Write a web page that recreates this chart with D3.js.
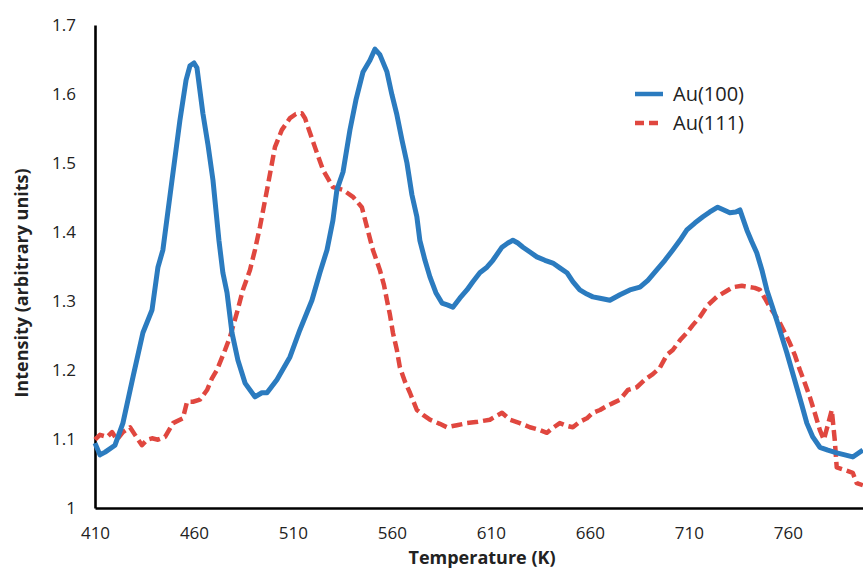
<!DOCTYPE html>
<html>
<head>
<meta charset="utf-8">
<script src="https://cdn.jsdelivr.net/npm/d3@7"></script>
<style>
  html, body { margin: 0; padding: 0; background: #fff; }
  svg { display: block; }
  text { font-family: "Open Sans", "Liberation Sans", sans-serif; fill: #222; }
</style>
</head>
<body>
<svg id="chart" width="863" height="571"></svg>
<script>
// Thermal desorption traces (temperature in K, intensity in arbitrary units)
const au100Temp = [410, 412.5, 415.1, 420.1, 424.1, 429.2, 434.2, 438.8, 441.8, 444.3, 448.9, 452.9, 456.0, 458.0, 460.0, 461.5, 464.5, 467.1, 469.6, 472.6, 474.6, 476.7, 479.2, 482.2, 485.8, 490.8, 494.3, 496.9, 501.9, 508.5, 513.5, 519.6, 523.6, 527.2, 530.2, 532.2, 535.3, 538.8, 541.8, 545.4, 548.9, 551.4, 553.9, 557.5, 560.0, 562.5, 565.1, 567.6, 570.1, 572.6, 574.1, 576.7, 579.2, 582.2, 585.3, 588.3, 590.8, 594.3, 597.9, 600.9, 604.4, 608.0, 611.0, 615.6, 618.6, 621.1, 623.6, 626.2, 629.7, 633.2, 637.3, 641.3, 644.8, 648.4, 651.4, 654.9, 658.5, 661.5, 665.1, 670.1, 675.2, 680.2, 685.3, 689.3, 693.8, 697.9, 701.9, 705.5, 709.0, 713.0, 717.1, 720.6, 724.6, 727.7, 730.7, 733.7, 735.8, 739.3, 741.8, 744.3, 746.9, 749.4, 751.9, 754.4, 757.0, 759.5, 762.0, 764.5, 767.1, 769.6, 772.6, 776.2, 780.2, 784.7, 788.8, 792.8, 797.9];
const au100Value = [1.094, 1.077, 1.081, 1.091, 1.123, 1.190, 1.254, 1.287, 1.349, 1.374, 1.475, 1.562, 1.620, 1.641, 1.645, 1.638, 1.572, 1.526, 1.475, 1.388, 1.341, 1.312, 1.254, 1.214, 1.181, 1.161, 1.167, 1.167, 1.186, 1.219, 1.258, 1.301, 1.341, 1.374, 1.417, 1.461, 1.487, 1.548, 1.591, 1.632, 1.649, 1.665, 1.657, 1.632, 1.599, 1.570, 1.533, 1.500, 1.454, 1.422, 1.388, 1.359, 1.335, 1.312, 1.297, 1.294, 1.291, 1.304, 1.316, 1.328, 1.341, 1.349, 1.359, 1.378, 1.384, 1.388, 1.384, 1.378, 1.371, 1.364, 1.359, 1.355, 1.348, 1.341, 1.328, 1.316, 1.310, 1.306, 1.304, 1.301, 1.309, 1.316, 1.320, 1.330, 1.345, 1.359, 1.374, 1.388, 1.403, 1.413, 1.422, 1.429, 1.436, 1.432, 1.428, 1.429, 1.432, 1.403, 1.386, 1.370, 1.345, 1.316, 1.294, 1.272, 1.248, 1.225, 1.200, 1.175, 1.149, 1.123, 1.103, 1.088, 1.084, 1.080, 1.077, 1.074, 1.084];

const au111Temp = [410, 412.5, 416.1, 418.6, 421.1, 424.1, 427.7, 430.2, 433.7, 436.3, 438.8, 441.8, 445.4, 449.4, 454.4, 456.5, 459.5, 463.0, 466.6, 469.1, 471.6, 475.7, 478.2, 481.7, 484.7, 488.3, 490.8, 493.3, 496.9, 500.9, 504.4, 508.5, 511.5, 514.5, 516.1, 517.6, 521.1, 525.2, 530.2, 535.3, 540.3, 544.8, 547.4, 550.4, 553.9, 556.0, 557.5, 559.0, 560.5, 562.5, 564.0, 566.6, 569.1, 572.6, 575.7, 579.2, 584.2, 587.8, 592.8, 597.9, 603.4, 609.5, 612.5, 615.6, 619.6, 624.6, 629.7, 634.7, 638.3, 641.3, 644.8, 648.4, 651.4, 654.9, 658.5, 661.5, 665.1, 668.6, 671.6, 675.2, 679.2, 683.7, 687.8, 691.8, 695.3, 698.9, 701.9, 705.5, 709.0, 712.0, 715.6, 719.6, 724.1, 728.2, 732.2, 736.8, 740.8, 743.3, 745.9, 748.4, 750.9, 753.5, 756.0, 758.5, 761.0, 763.5, 766.1, 768.6, 771.1, 773.6, 776.2, 778.2, 780.2, 782.2, 783.7, 784.7, 788.8, 792.8, 794.8, 797.9];
const au111Value = [1.099, 1.106, 1.103, 1.110, 1.099, 1.110, 1.117, 1.106, 1.091, 1.099, 1.101, 1.099, 1.103, 1.123, 1.130, 1.154, 1.154, 1.157, 1.171, 1.188, 1.200, 1.229, 1.248, 1.283, 1.316, 1.345, 1.374, 1.407, 1.461, 1.523, 1.548, 1.565, 1.571, 1.572, 1.565, 1.552, 1.523, 1.490, 1.465, 1.461, 1.451, 1.436, 1.407, 1.374, 1.345, 1.323, 1.301, 1.280, 1.254, 1.229, 1.204, 1.183, 1.167, 1.142, 1.135, 1.128, 1.122, 1.117, 1.120, 1.123, 1.125, 1.128, 1.133, 1.138, 1.128, 1.123, 1.117, 1.113, 1.109, 1.116, 1.123, 1.119, 1.117, 1.125, 1.130, 1.138, 1.142, 1.148, 1.152, 1.157, 1.171, 1.175, 1.186, 1.194, 1.203, 1.222, 1.229, 1.243, 1.254, 1.265, 1.277, 1.294, 1.306, 1.313, 1.320, 1.322, 1.320, 1.319, 1.316, 1.304, 1.291, 1.280, 1.268, 1.254, 1.239, 1.222, 1.200, 1.181, 1.161, 1.138, 1.113, 1.099, 1.120, 1.142, 1.099, 1.059, 1.055, 1.051, 1.036, 1.033];

const xTicks = [410, 460, 510, 560, 610, 660, 710, 760];
const yTicks = [1, 1.1, 1.2, 1.3, 1.4, 1.5, 1.6, 1.7];
const seriesNames = ["Au(100)", "Au(111)"];

const blue = "#2b7bbf";
const red = "#e0473f";

const svg = d3.select("#chart");

const x = d3.scaleLinear().domain([410, 800]).range([95, 867]);
const y = d3.scaleLinear().domain([1, 1.7]).range([508, 25]);

// Axes: plain black lines, no tick marks
const xAxis = svg.append("g")
  .attr("transform", `translate(0,${y(1)})`)
  .call(d3.axisBottom(x).tickValues(xTicks).tickSize(0).tickPadding(19).tickFormat(d3.format("d")));
xAxis.select(".domain").attr("stroke", "#000").attr("stroke-width", 2.6);
xAxis.selectAll("text").style("font-size", "17px").attr("fill", "#222")
  .style("font-family", "'Open Sans', sans-serif");

const yAxis = svg.append("g")
  .attr("transform", `translate(${x(410)},0)`)
  .call(d3.axisLeft(y).tickValues(yTicks).tickSize(0).tickPadding(19)
    .tickFormat(d => d === 1 ? "1" : d3.format(".1f")(d)));
yAxis.select(".domain").attr("stroke", "#000").attr("stroke-width", 2.6);
yAxis.selectAll("text").style("font-size", "17px").attr("fill", "#222")
  .style("font-family", "'Open Sans', sans-serif");

// Axis titles
svg.append("text")
  .attr("x", 482).attr("y", 564)
  .attr("text-anchor", "middle")
  .style("font-size", "18px").style("font-weight", "bold")
  .text("Temperature (K)");

svg.append("text")
  .attr("transform", "translate(28,283) rotate(-90)")
  .attr("text-anchor", "middle")
  .style("font-size", "18px").style("font-weight", "bold")
  .text("Intensity (arbitrary units)");

// Traces
const line = d3.line().x(d => x(d[0])).y(d => y(d[1]));
const au111 = d3.zip(au111Temp, au111Value);
const au100 = d3.zip(au100Temp, au100Value);

svg.append("path")
  .datum(au111)
  .attr("fill", "none")
  .attr("stroke", red)
  .attr("stroke-width", 4.5)
  .attr("stroke-dasharray", "11,5")
  .attr("stroke-linejoin", "round")
  .attr("d", line);

svg.append("path")
  .datum(au100)
  .attr("fill", "none")
  .attr("stroke", blue)
  .attr("stroke-width", 5)
  .attr("stroke-linejoin", "round")
  .attr("d", line);

// Legend
const legend = svg.append("g").attr("transform", "translate(635,94)");
const legendStyles = [
  { color: blue, dash: null },
  { color: red, dash: "9,5" }
];
seriesNames.forEach((name, i) => {
  const row = legend.append("g").attr("transform", `translate(0,${i * 29})`);
  row.append("line")
    .attr("x1", 0).attr("x2", 28).attr("y1", 0).attr("y2", 0)
    .attr("stroke", legendStyles[i].color)
    .attr("stroke-width", 4.5)
    .attr("stroke-dasharray", legendStyles[i].dash);
  row.append("text")
    .attr("x", 38).attr("y", 0).attr("dy", "0.35em")
    .style("font-size", "20px")
    .text(name);
});
</script>
</body>
</html>
